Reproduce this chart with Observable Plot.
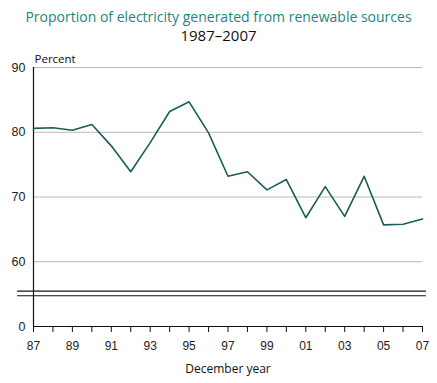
<!DOCTYPE html>
<html>
<head>
<meta charset="utf-8">
<script src="https://cdn.jsdelivr.net/npm/d3@7"></script>
<script src="https://cdn.jsdelivr.net/npm/@observablehq/plot@0.6"></script>
<style>
  body { margin: 0; background: #fff; }
  #wrap { position: relative; width: 437px; height: 383px; overflow: hidden; }
  #title { position: absolute; left: 0; width: 437px; top: 7px; text-align: center;
    font-family: "Open Sans", sans-serif; font-size: 14px; line-height: 20px; color: #1e857c; }
  #subtitle { position: absolute; left: 0; width: 437px; top: 25px; text-align: center;
    font-family: "Open Sans", sans-serif; font-size: 15px; line-height: 20px; color: #111; }
  #chart { position: absolute; left: 0; top: 44px; }
</style>
</head>
<body>
<div id="wrap">
  <div id="title">Proportion of electricity generated from renewable sources</div>
  <div id="subtitle">1987–2007</div>
  <div id="chart"></div>
</div>
<script>
const years = [1987,1988,1989,1990,1991,1992,1993,1994,1995,1996,1997,1998,1999,2000,2001,2002,2003,2004,2005,2006,2007];
const percent = [80.6,80.7,80.3,81.2,77.9,73.9,78.4,83.2,84.7,79.9,73.2,73.9,71.1,72.7,66.8,71.6,67.0,73.2,65.7,65.8,66.6];
const yTickLabels = ["0","60","70","80","90"];
const gridTicks = [60,70,80,90];
const xLabelTicks = [1987,1989,1991,1993,1995,1997,1999,2001,2003,2005,2007];

const data = years.map((year, i) => ({year, value: percent[i]}));

// Broken axis: the scale's lowest position (50) stands for 0.
const axisFloor = 50;
const yTickPos = [axisFloor, 60, 70, 80, 90];

const chart = Plot.plot({
  width: 437,
  height: 339,
  marginTop: 23,
  marginBottom: 57,
  marginLeft: 33,
  marginRight: 15,
  style: {fontFamily: "'Liberation Sans', Arial, sans-serif", fontSize: "12px", color: "#222", background: "#fff"},
  x: {domain: [1987, 2007]},
  y: {domain: [axisFloor, 90]},
  marks: [
    Plot.ruleY(gridTicks, {stroke: "#b8b8b8", strokeWidth: 1}),
    Plot.ruleY([55.45, 54.75], {x1: 1986.18, x2: 2007.2, stroke: "#111", strokeWidth: 1.2, clip: false}),
    Plot.ruleY([axisFloor], {stroke: "#111", strokeWidth: 1.2}),
    Plot.ruleX([1987], {stroke: "#111", strokeWidth: 1.2}),
    Plot.axisY({ticks: yTickPos, tickSize: 0, tickPadding: 8, label: null, fontSize: 12.5,
      tickFormat: (d, i) => yTickLabels[yTickPos.indexOf(d)]}),
    Plot.axisX({ticks: years, tickSize: 6, tickFormat: () => "", label: null, stroke: "#111"}),
    Plot.axisX({ticks: xLabelTicks, tickSize: 0, tickPadding: 15, label: null, fontSize: 12,
      tickFormat: d => String(d % 100).padStart(2, "0")}),
    Plot.text(["Percent"], {frameAnchor: "top-left", dx: 1, dy: -13, textAnchor: "start",
      fontFamily: "'Open Sans', sans-serif", fontSize: 11.5, fill: "#111"}),
    Plot.text(["December year"], {frameAnchor: "bottom", dy: 46,
      fontFamily: "'Open Sans', sans-serif", fontSize: 12, fill: "#111"}),
    Plot.line(data, {x: "year", y: "value", stroke: "#1d5b57", strokeWidth: 1.6})
  ]
});
document.getElementById("chart").appendChild(chart);
</script>
</body>
</html>
